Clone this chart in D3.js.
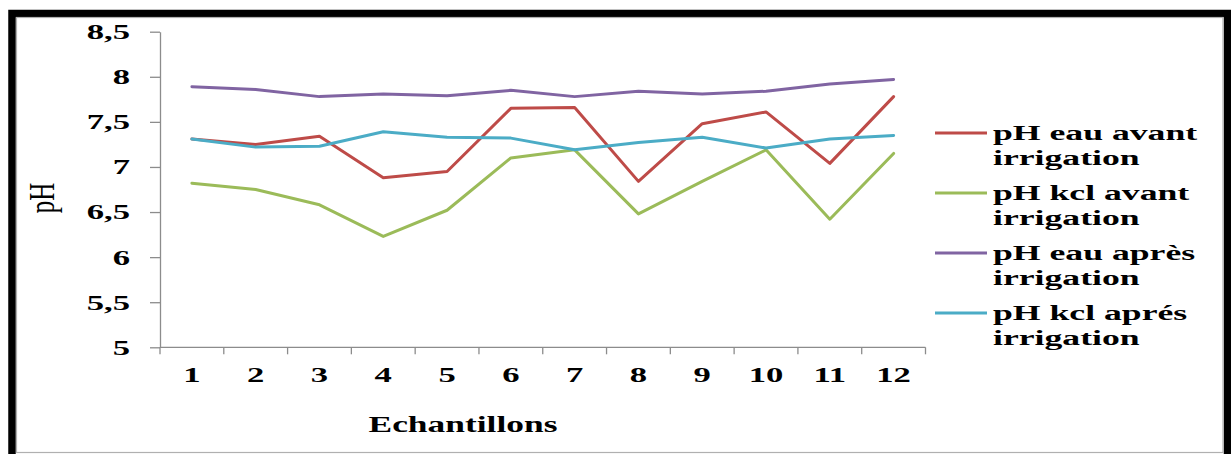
<!DOCTYPE html>
<html>
<head>
<meta charset="utf-8">
<script src="https://cdn.jsdelivr.net/npm/d3@7/dist/d3.min.js"></script>
<style>
  html, body { margin: 0; padding: 0; background: #fff; }
  svg { display: block; }
  text { font-family: "Liberation Serif", "Times New Roman", serif; fill: #000; }
</style>
</head>
<body>
<svg id="chart" width="1231" height="454"></svg>
<script>
// Samples and measured pH values
const categories = ["1", "2", "3", "4", "5", "6", "7", "8", "9", "10", "11", "12"];
const phEauAvant  = [7.31, 7.25, 7.34, 6.88, 6.95, 7.65, 7.66, 6.84, 7.48, 7.61, 7.04, 7.78];
const phKclAvant  = [6.82, 6.75, 6.58, 6.23, 6.52, 7.10, 7.19, 6.48, 6.84, 7.19, 6.42, 7.15];
const phEauApres  = [7.89, 7.86, 7.78, 7.81, 7.79, 7.85, 7.78, 7.84, 7.81, 7.84, 7.92, 7.97];
const phKclApres  = [7.31, 7.22, 7.23, 7.39, 7.33, 7.32, 7.19, 7.27, 7.33, 7.21, 7.31, 7.35];
const seriesNames = ["pH eau avant irrigation", "pH kcl avant irrigation",
                     "pH eau après irrigation", "pH kcl aprés irrigation"];
const yTicks = [5, 5.5, 6, 6.5, 7, 7.5, 8, 8.5];
const yTitle = "pH";
const xTitle = "Echantillons";

const series = [
  { name: seriesNames[0], values: phEauAvant, color: "#BE4B48" },
  { name: seriesNames[1], values: phKclAvant, color: "#9BBB59" },
  { name: seriesNames[2], values: phEauApres, color: "#8064A2" },
  { name: seriesNames[3], values: phKclApres, color: "#4BACC6" }
];

const svg = d3.select("#chart");
const SX = 1.65;          // horizontal stretch of the lettering
const axisColor = "#8c8c8c";
const fmt = v => String(v).replace(".", ",");

// outer frame
svg.append("rect").attr("x", 12).attr("y", 13.5).attr("width", 1215.5).attr("height", 460)
  .attr("fill", "none").attr("stroke", "#000").attr("stroke-width", 7.5);
svg.append("rect").attr("x", 16.5).attr("y", 17.5).attr("width", 1206.5).attr("height", 435)
  .attr("fill", "none").attr("stroke", "#b0b0b0").attr("stroke-width", 1.2);

const plotLeft = 160, plotRight = 925.5, plotTop = 31.7, plotBottom = 347.3;
const x = d3.scaleBand().domain(categories).range([plotLeft, plotRight]).padding(0);
const y = d3.scaleLinear().domain([5, 8.5]).range([plotBottom, plotTop]);
const cx = c => x(c) + x.bandwidth() / 2;

// y axis
const yAxis = svg.append("g").attr("transform", `translate(${plotLeft},0)`)
  .call(d3.axisLeft(y).tickValues(yTicks).tickSize(10).tickSizeOuter(0).tickFormat(fmt));
yAxis.select(".domain").attr("stroke", axisColor).attr("stroke-width", 1.3);
yAxis.selectAll(".tick line").attr("stroke", axisColor).attr("stroke-width", 1.3);
yAxis.selectAll(".tick text")
  .attr("font-family", "Liberation Serif").attr("font-weight", "bold").attr("font-size", 21)
  .attr("x", -30 / SX).attr("dy", "0.33em")
  .attr("transform", `scale(${SX},1)`);

// x axis: ticks on the category boundaries, labels centred in each band
const xg = svg.append("g");
xg.append("line").attr("x1", plotLeft).attr("x2", plotRight).attr("y1", plotBottom).attr("y2", plotBottom)
  .attr("stroke", axisColor).attr("stroke-width", 1.3);
const edges = categories.map(c => x(c)).concat([plotRight]);
xg.selectAll("line.tk").data(edges).join("line").attr("class", "tk")
  .attr("x1", d => d).attr("x2", d => d).attr("y1", plotBottom).attr("y2", plotBottom + 7)
  .attr("stroke", axisColor).attr("stroke-width", 1.3);
xg.selectAll("text").data(categories).join("text")
  .attr("transform", d => `translate(${cx(d)},382) scale(${SX},1)`)
  .attr("text-anchor", "middle").attr("font-weight", "bold").attr("font-size", 21)
  .text(d => d);

// axis titles
svg.append("text")
  .attr("transform", `translate(463,432) scale(1.54,1)`)
  .attr("text-anchor", "middle").attr("font-weight", "bold").attr("font-size", 23)
  .text(xTitle);
svg.append("text")
  .attr("transform", `translate(54,198) scale(1.4,1) rotate(-90)`)
  .attr("text-anchor", "middle").attr("font-size", 25)
  .text(yTitle);

// series lines
const line = d3.line().x((d, i) => cx(categories[i])).y(d => y(d));
svg.append("g").selectAll("path").data(series).join("path")
  .attr("d", d => line(d.values))
  .attr("fill", "none").attr("stroke", d => d.color).attr("stroke-width", 3)
  .attr("stroke-linejoin", "round").attr("stroke-linecap", "round");

// legend
const legend = svg.append("g");
series.forEach((s, i) => {
  const base = 140 + i * 60;
  const words = s.name.split(" ");
  const first = words.slice(0, -1).join(" ");
  const second = words[words.length - 1];
  legend.append("line").attr("x1", 935).attr("x2", 987).attr("y1", base - 7).attr("y2", base - 7)
    .attr("stroke", s.color).attr("stroke-width", 3);
  legend.append("text").attr("transform", `translate(993,${base}) scale(1.7,1)`)
    .attr("font-weight", "bold").attr("font-size", 21).text(first);
  legend.append("text").attr("transform", `translate(993,${base + 25}) scale(1.7,1)`)
    .attr("font-weight", "bold").attr("font-size", 21).text(second);
});
</script>
</body>
</html>
